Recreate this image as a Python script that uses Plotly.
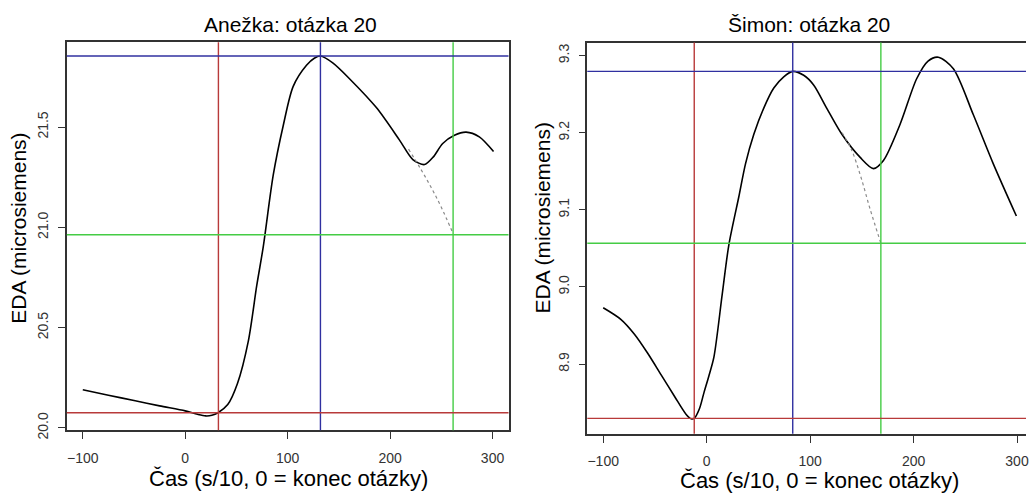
import plotly.graph_objects as go

W, H = 1029, 502

# ---- Left panel data (Anežka) ----
a_t = [-100, -75, -50, -25, 0, 12, 20, 26, 32, 41.5, 51, 61.6, 69.8, 76.2, 85.9, 95.7,
       105.4, 118.4, 126, 132, 144, 160.6, 186.6, 209.2, 222.2, 233.6, 242, 251.4, 262.8,
       274.2, 287.1, 301]
a_eda = [20.19, 20.163, 20.137, 20.11, 20.085, 20.068, 20.06, 20.063, 20.076, 20.117,
         20.222, 20.433, 20.709, 20.904, 21.26, 21.508, 21.703, 21.808, 21.843, 21.854,
         21.82, 21.74, 21.597, 21.435, 21.338, 21.313, 21.35, 21.418, 21.459, 21.475,
         21.451, 21.378]
a_dot_t = [218, 230, 240, 250, 262]
a_dot_eda = [21.39, 21.29, 21.20, 21.10, 20.963]
a_vlines = [32.4, 132, 261.5]
a_hlines = [20.076, 21.854, 20.963]

# ---- Right panel data (Šimon) ----
s_t = [-100, -83, -70, -57, -44, -31, -20, -15, -12, -7, -2.6, 2, 7, 15, 21.5, 31.1, 37.6,
       45.6, 55.2, 64.9, 74.5, 83.2, 93.8, 103.4, 116, 130.7, 148.4, 161.2, 170.9, 187,
       203, 214, 224, 238.5, 257.7, 277, 299.4]
s_eda = [8.973, 8.958, 8.939, 8.914, 8.886, 8.858, 8.835, 8.829, 8.8296, 8.842, 8.863,
         8.884, 8.909, 8.99, 9.055, 9.117, 9.160, 9.198, 9.232, 9.258, 9.2725, 9.2796,
         9.2745, 9.262, 9.232, 9.198, 9.168, 9.1535, 9.164, 9.211, 9.27, 9.293, 9.298,
         9.283, 9.2236, 9.16, 9.092]
s_dot_t = [131, 140, 149, 158, 168.4]
s_dot_eda = [9.2, 9.178, 9.143, 9.101, 9.0567]
s_vlines = [-12, 83.2, 168.4]
s_hlines = [8.8296, 9.2796, 9.0567]

x_ticks = [-100, 0, 100, 200, 300]
a_yticks = [20.0, 20.5, 21.0, 21.5]
s_yticks = [8.9, 9.0, 9.1, 9.2, 9.3]
line_colors = ["#b83a3a", "#3030a0", "#44cc44"]

titles = ["Anežka: otázka 20", "Šimon: otázka 20"]
xlab = "Čas (s/10, 0 = konec otázky)"
ylab = "EDA (microsiemens)"

FONT = "Liberation Sans, Arial, sans-serif"
AX = "#333333"

fig = go.Figure()
fig.add_trace(go.Scatter(x=a_t, y=a_eda, mode="lines", line=dict(color="black", width=1.6, shape="spline", smoothing=0.8),
                         xaxis="x", yaxis="y", showlegend=False))
fig.add_trace(go.Scatter(x=a_dot_t, y=a_dot_eda, mode="lines", line=dict(color="#8a8a8a", width=1.2, dash="dot", shape="spline"),
                         xaxis="x", yaxis="y", showlegend=False))
fig.add_trace(go.Scatter(x=s_t, y=s_eda, mode="lines", line=dict(color="black", width=1.6, shape="spline", smoothing=0.8),
                         xaxis="x2", yaxis="y2", showlegend=False))
fig.add_trace(go.Scatter(x=s_dot_t, y=s_dot_eda, mode="lines", line=dict(color="#8a8a8a", width=1.2, dash="dot", shape="spline"),
                         xaxis="x2", yaxis="y2", showlegend=False))

shapes = []
for xr, yr, vl, hl in [("x", "y", a_vlines, a_hlines), ("x2", "y2", s_vlines, s_hlines)]:
    for v, c in zip(vl, line_colors):
        shapes.append(dict(type="line", xref=xr, yref=yr + " domain", x0=v, x1=v, y0=0, y1=1,
                           line=dict(color=c, width=1.4)))
    for h, c in zip(hl, line_colors):
        shapes.append(dict(type="line", xref=xr + " domain", yref=yr, x0=0, x1=1, y0=h, y1=h,
                           line=dict(color=c, width=1.4)))

def px_x(p):
    return p / W

def px_y(p):
    return 1 - p / H

axis_common = dict(showgrid=False, zeroline=False, showline=True, linecolor=AX, linewidth=1.5,
                   ticks="outside", ticklen=7, tickwidth=1.3, tickcolor=AX,
                   ticklabeloverflow="allow",
                   tickfont=dict(family=FONT, size=14, color="#333333"))

fig.update_layout(
    width=W, height=H, margin=dict(l=0, r=0, t=0, b=0),
    paper_bgcolor="white", plot_bgcolor="white",
    shapes=shapes,
    xaxis=dict(domain=[px_x(67), px_x(510)], range=[-115.6, 315.6], tickvals=x_ticks,
               anchor="y", mirror=True, ticklabelstandoff=7, **axis_common),
    yaxis=dict(domain=[px_y(438), px_y(43)], range=[19.989, 21.923], tickvals=a_yticks,
               ticktext=[f"{v:.1f}" for v in a_yticks], tickangle=-90,
               anchor="x", mirror=True, ticklabelstandoff=4, **axis_common),
    xaxis2=dict(domain=[px_x(589), 1.0], range=[-115.4, 308.7], tickvals=x_ticks,
                anchor="y2", mirror=True, ticklabelstandoff=7, **axis_common),
    yaxis2=dict(domain=[px_y(441.7), px_y(43.3)], range=[8.8096, 9.317], tickvals=s_yticks,
                ticktext=[f"{v:.1f}" for v in s_yticks], tickangle=-90,
                anchor="x2", mirror=False, ticklabelstandoff=4, **axis_common),
    annotations=[
        dict(text=titles[0], x=px_x(291), y=px_y(25), xref="paper", yref="paper", showarrow=False,
             xanchor="center", yanchor="middle", font=dict(family=FONT, size=21, color="black")),
        dict(text=titles[1], x=px_x(811), y=px_y(25), xref="paper", yref="paper", showarrow=False,
             xanchor="center", yanchor="middle", font=dict(family=FONT, size=21, color="black")),
        dict(text=xlab, x=px_x(289), y=px_y(487), xref="paper", yref="paper", showarrow=False,
             xanchor="center", yanchor="middle", font=dict(family=FONT, size=22, color="black")),
        dict(text=xlab, x=px_x(822), y=px_y(489), xref="paper", yref="paper", showarrow=False,
             xanchor="center", yanchor="middle", font=dict(family=FONT, size=22, color="black")),
        dict(text=ylab, x=px_x(19), y=px_y(232), xref="paper", yref="paper", showarrow=False,
             textangle=-90, xanchor="center", yanchor="middle", font=dict(family=FONT, size=21, color="black")),
        dict(text=ylab, x=px_x(544), y=px_y(222), xref="paper", yref="paper", showarrow=False,
             textangle=-90, xanchor="center", yanchor="middle", font=dict(family=FONT, size=21, color="black")),
    ],
)

fig.write_html("out.html")
